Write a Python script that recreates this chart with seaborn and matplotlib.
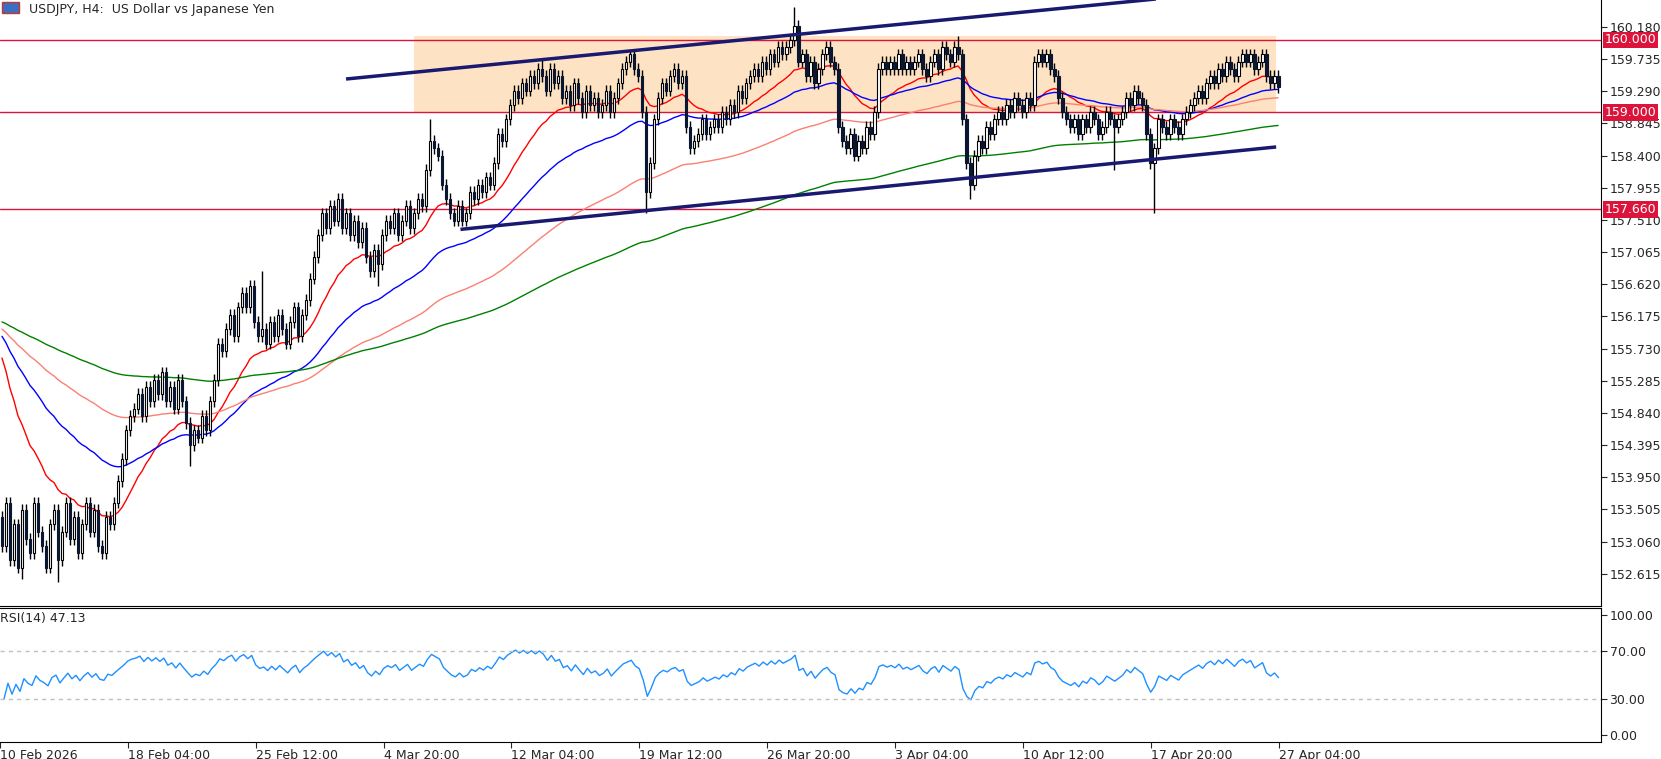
import numpy as np
import pandas as pd
import matplotlib
matplotlib.use("Agg")
import matplotlib.pyplot as plt
import seaborn as sns

closes = [
153.0,153.6,152.8,153.3,152.7,153.5,153.1,152.9,153.6,153.2,
153.0,152.7,153.3,153.5,152.8,153.2,153.6,153.1,153.4,152.9,
153.3,153.6,153.2,153.5,153.0,152.9,153.4,153.3,153.6,153.9,
154.2,154.6,154.8,154.9,155.1,154.8,155.2,155.0,155.3,155.1,
155.4,155.0,155.2,154.9,155.3,155.0,154.7,154.4,154.6,154.5,
154.8,154.6,155.0,155.3,155.8,155.7,156.0,156.2,155.9,156.3,
156.5,156.3,156.6,156.1,155.9,156.0,155.8,156.1,155.9,156.2,
156.0,155.8,156.1,156.3,155.9,156.2,156.4,156.7,157.0,157.3,
157.6,157.4,157.7,157.5,157.8,157.4,157.6,157.3,157.5,157.2,
157.4,157.0,156.8,157.1,156.9,157.3,157.5,157.4,157.6,157.3,
157.5,157.7,157.4,157.6,157.8,157.7,158.2,158.6,158.5,158.4,
158.0,157.8,157.6,157.5,157.7,157.5,157.6,157.9,157.8,158.0,
157.9,158.1,158.0,158.3,158.7,158.6,158.9,159.1,159.3,159.2,
159.4,159.3,159.5,159.4,159.6,159.5,159.3,159.6,159.4,159.5,
159.2,159.3,159.1,159.4,159.2,159.0,159.3,159.1,159.2,159.0,
159.1,159.3,159.0,159.2,159.4,159.6,159.7,159.8,159.6,159.5,
159.0,157.9,158.3,158.9,159.2,159.4,159.3,159.5,159.6,159.4,
159.5,158.8,158.5,158.6,158.7,158.9,158.7,158.8,158.9,158.8,
159.0,158.9,159.1,159.0,159.3,159.2,159.4,159.5,159.6,159.5,
159.7,159.6,159.8,159.7,159.9,159.8,159.9,160.0,160.2,159.7,
159.8,159.5,159.7,159.4,159.6,159.8,159.9,159.7,159.6,158.8,
158.6,158.5,158.7,158.4,158.6,158.5,158.8,158.7,159.0,159.6,
159.7,159.6,159.7,159.6,159.8,159.6,159.7,159.6,159.7,159.8,
159.6,159.5,159.7,159.8,159.6,159.9,159.8,159.7,159.9,159.8,
158.9,158.3,158.0,158.4,158.6,158.5,158.8,158.7,158.9,159.0,
158.9,159.1,159.0,159.2,159.1,159.0,159.2,159.1,159.7,159.8,
159.7,159.8,159.6,159.5,159.2,159.0,158.9,158.8,158.9,158.7,
158.9,158.8,159.0,158.9,158.7,158.8,159.0,158.9,158.8,158.9,
159.0,159.2,159.1,159.3,159.2,159.1,158.7,158.3,158.5,158.9,
158.8,158.7,158.9,158.8,158.7,158.9,159.0,159.1,159.2,159.3,
159.2,159.4,159.5,159.4,159.6,159.5,159.7,159.6,159.5,159.7,
159.8,159.7,159.8,159.6,159.7,159.8,159.5,159.4,159.5,159.35,
]
first_open = 153.4
spike_highs = {65: 156.8, 107: 158.9, 135: 159.75, 157: 159.85, 198: 160.45, 239: 160.05}
spike_lows = {5: 152.55, 14: 152.5, 47: 154.1, 94: 156.6, 161: 157.6, 242: 157.8, 278: 158.2, 288: 157.6}
wick = 0.08
ma_spans = [21, 50, 100, 200]
ma_seeds = [155.6, 155.9, 156.0, 156.1]
ma_colors = ["#ff0000", "#0000ff", "#fa8072", "#008000"]
rsi_seed_gain, rsi_seed_loss = 0.06, 0.14
hlevels = [160.000, 159.000, 157.660]
box_bars = (103, 318.5)
box_prices = (159.0, 160.06)
upper_line = ((86, 159.46), (289, 160.57))
lower_line = ((114.6, 157.38), (318.5, 158.52))
price_ticks = [160.180, 159.735, 159.290, 158.845, 158.400, 157.955, 157.510, 157.065,
               156.620, 156.175, 155.730, 155.285, 154.840, 154.395, 153.950, 153.505,
               153.060, 152.615]
time_ticks = [-1, 31, 63, 95, 127, 159, 191, 223, 255, 287, 319]
time_labels = ["10 Feb 2026", "18 Feb 04:00", "25 Feb 12:00", "4 Mar 20:00", "12 Mar 04:00",
               "19 Mar 12:00", "26 Mar 20:00", "3 Apr 04:00", "10 Apr 12:00", "17 Apr 20:00",
               "27 Apr 04:00"]

sns.set_style("white")
plt.rcParams['font.family'] = ['DejaVu Sans']

c = np.array(closes)
n = len(c)
o = np.concatenate([[first_open], c[:-1]])
h = np.maximum(o, c) + wick
l = np.minimum(o, c) - wick
for k, v in spike_highs.items():
    h[k] = v
for k, v in spike_lows.items():
    l[k] = v
idx = np.arange(n)

fig = plt.figure(figsize=(16.61, 7.59), dpi=100)
ax = fig.add_axes([0.0, 0.2016, 0.964, 0.7984])
ax2 = fig.add_axes([0.0, 0.0224, 0.964, 0.1765])

ax.fill_between(box_bars, box_prices[0], box_prices[1], color="#fde3c3", zorder=0, lw=0)
for lv in hlevels:
    ax.axhline(lv, color="#dc143c", lw=1, zorder=1)

for span, seed, col in zip(ma_spans, ma_seeds, ma_colors):
    a = 2 / (span + 1)
    ema = [seed]
    for v in c[1:]:
        ema.append(ema[-1] + a * (v - ema[-1]))
    sns.lineplot(x=idx, y=ema, ax=ax, color=col, lw=1, zorder=2)

up = c >= o
ax.vlines(idx, l, h, color="black", lw=1, zorder=3)
body_b = np.minimum(o, c)
body_h = np.maximum(np.abs(c - o), 0.01)
ax.bar(idx[up], body_h[up], bottom=body_b[up], width=0.7, color="white", edgecolor="black", lw=0.8, zorder=4)
ax.bar(idx[~up], body_h[~up], bottom=body_b[~up], width=0.7, color="#0b1633", edgecolor="#0b1633", lw=0.8, zorder=4)

for i, ((x0, y0), (x1, y1)) in enumerate([upper_line, lower_line]):
    xe = 319 if i == 0 else x1
    ye = y0 + (y1 - y0) / (x1 - x0) * (xe - x0)
    ax.plot([x0, xe], [y0, ye], color="#191970", lw=2.5, zorder=5, solid_capstyle="butt")

ax.set_xlim(-0.5, 399.75)
ax.set_ylim(152.17, 160.553)
ax.yaxis.tick_right()
ax.set_yticks(price_ticks)
ax.set_yticklabels([f"{t:.3f}" for t in price_ticks], fontsize=9)
ax.tick_params(axis="y", direction="out", length=4, pad=2, right=True)
ax.set_xticks([])
for sp in ax.spines.values():
    sp.set_color("black")
ax.spines["top"].set_visible(False)
ax.spines["left"].set_visible(False)
for lv in hlevels:
    ax.text(1.002, lv, f"{lv:.3f}", transform=ax.get_yaxis_transform(), color="white",
            fontsize=9, va="center", ha="left",
            bbox=dict(boxstyle="square,pad=0.15", fc="#dc143c", ec="none"), zorder=10, clip_on=False)
ax.text(0.018, 0.995, "USDJPY, H4:  US Dollar vs Japanese Yen", transform=ax.transAxes,
        fontsize=9, va="top", ha="left")
ax.add_patch(plt.Rectangle((0.001, 0.978), 0.011, 0.019, transform=ax.transAxes,
                           fc="#3a6fc4", ec="#c0392b", lw=1, clip_on=False))

d = np.diff(c)
gain, loss = rsi_seed_gain, rsi_seed_loss
rsi = [100 - 100 / (1 + gain / loss)]
for dv in d:
    gain = (gain * 13 + max(dv, 0)) / 14
    loss = (loss * 13 + max(-dv, 0)) / 14
    rsi.append(100 - 100 / (1 + gain / loss))
sns.lineplot(x=idx, y=rsi, ax=ax2, color="#1e90ff", lw=1)
for lv in [70, 30]:
    ax2.axhline(lv, color="#c0c0c0", lw=1, ls=(0, (3, 3)))
ax2.set_xlim(-0.5, 399.75)
ax2.set_ylim(-6, 106)
ax2.yaxis.tick_right()
ax2.set_yticks([100, 70, 30, 0])
ax2.set_yticklabels(["100.00", "70.00", "30.00", "0.00"], fontsize=9)
ax2.tick_params(axis="y", direction="out", length=4, pad=2, right=True)
ax2.set_xticks(time_ticks)
ax2.set_xticklabels(time_labels, fontsize=9, ha="left")
ax2.tick_params(axis="x", direction="out", length=4, pad=1, bottom=True)
for sp in ax2.spines.values():
    sp.set_color("black")
ax2.spines["left"].set_visible(False)
ax2.set_ylabel("")
ax.set_ylabel("")
ax2.text(0.0, 0.97, "RSI(14) 47.13", transform=ax2.transAxes, fontsize=9, va="top", ha="left")

fig.savefig("out.png", dpi=100)
